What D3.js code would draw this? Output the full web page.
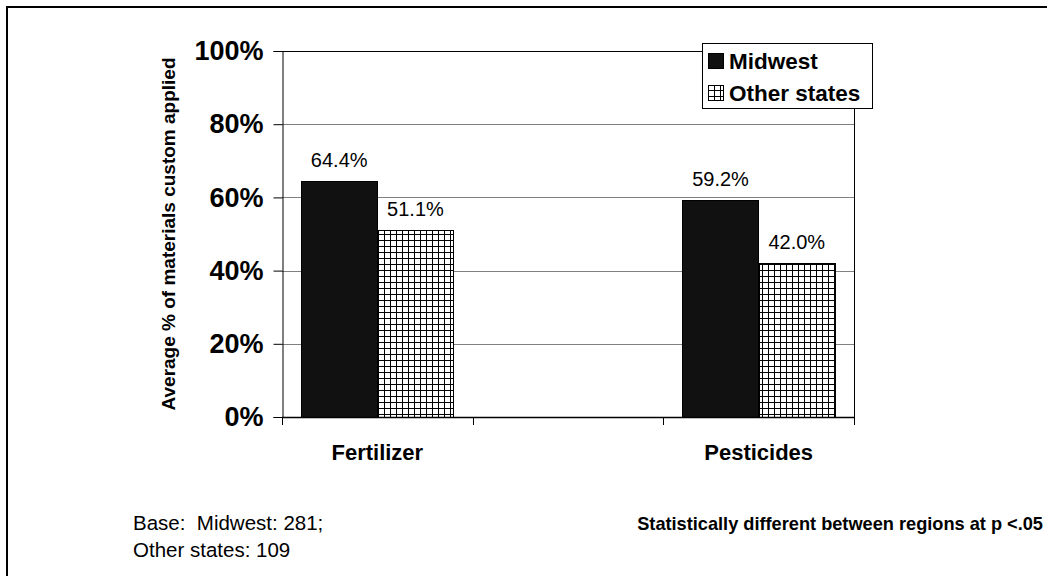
<!DOCTYPE html>
<html>
<head>
<meta charset="utf-8">
<script src="https://cdn.jsdelivr.net/npm/d3@7"></script>
<style>
  body { margin: 0; background: #fff; }
  svg text { font-family: "Liberation Sans", Arial, sans-serif; fill: #000; }
</style>
</head>
<body>
<script>
// chart values
const categories = ["Fertilizer", "", "Pesticides"];
const seriesNames = ["Midwest", "Other states"];
const midwest = [64.4, null, 59.2];
const otherStates = [51.1, null, 42.0];
const yTicks = [0, 20, 40, 60, 80, 100];

const W = 1047, H = 576;
const plot = { left: 282, right: 854, top: 51, bottom: 417 };

const svg = d3.select("body").append("svg")
    .attr("width", W)
    .attr("height", H);

// grid pattern for "Other states"
const defs = svg.append("defs");
const pat = defs.append("pattern")
    .attr("id", "grid")
    .attr("patternUnits", "userSpaceOnUse")
    .attr("width", 6).attr("height", 6);
pat.append("rect").attr("width", 6).attr("height", 6).attr("fill", "#fff");
pat.append("path").attr("d", "M0,0.5H6M0.5,0V6")
    .attr("stroke", "#000").attr("stroke-width", 1);

// outer frame
svg.append("rect")
    .attr("x", 7).attr("y", 7)
    .attr("width", 1100).attr("height", 600)
    .attr("fill", "none").attr("stroke", "#000").attr("stroke-width", 2);

var x = d3.scaleBand().domain(categories).range([plot.left, plot.right]);
var xs = d3.scaleBand().domain(seriesNames)
    .range([0, x.bandwidth()]).paddingOuter(0.25);
var y = d3.scaleLinear().domain([0, 100]).range([plot.bottom, plot.top]);

// gridlines
svg.append("g").selectAll("line")
    .data(yTicks.filter(d => d > 0 && d < 100))
    .enter().append("line")
    .attr("x1", plot.left).attr("x2", plot.right)
    .attr("y1", d => Math.round(y(d)) + 0.5).attr("y2", d => Math.round(y(d)) + 0.5)
    .attr("stroke", "#808080");

// plot area border (top, right)
svg.append("path")
    .attr("d", "M" + plot.left + "," + (plot.top + 0.5) + "H" + (plot.right + 0.5) + "V" + plot.bottom)
    .attr("fill", "none").attr("stroke", "#000");

// bars
const series = [
  { name: "Midwest", values: midwest, fill: "#111" },
  { name: "Other states", values: otherStates, fill: "url(#grid)" }
];
series.forEach(function (s) {
  const pts = categories.map((c, i) => ({ cat: c, v: s.values[i] })).filter(d => d.v != null);
  const g = svg.append("g");
  g.selectAll("rect")
      .data(pts)
      .enter().append("rect")
      .attr("x", d => Math.round(x(d.cat) + xs(s.name)) + 0.5)
      .attr("y", d => Math.round(y(d.v)) + 0.5)
      .attr("width", Math.round(xs.bandwidth()))
      .attr("height", d => Math.round(plot.bottom - y(d.v)))
      .attr("fill", s.fill)
      .attr("stroke", "#000");
  g.selectAll("text")
      .data(pts)
      .enter().append("text")
      .attr("x", d => x(d.cat) + xs(s.name) + xs.bandwidth() / 2)
      .attr("y", d => y(d.v) - 14)
      .attr("text-anchor", "middle")
      .style("font-size", "20px")
      .text(d => d.v.toFixed(1) + "%");
});

// y axis
const yAxis = svg.append("g")
    .attr("transform", "translate(" + (plot.left + 0.5) + ",0)")
    .call(d3.axisLeft(y).tickValues(yTicks).tickSize(9).tickPadding(10).tickFormat(d => d + "%"));
yAxis.select(".domain").attr("stroke", "#000");
yAxis.selectAll(".tick line").attr("stroke", "#000");
yAxis.selectAll("text")
    .style("font-size", "27px").style("font-weight", "bold")
    .attr("font-family", null);

// x axis
const bounds = [plot.left].concat(categories.map(c => x(c) + x.bandwidth()));
const xAxis = svg.append("g");
xAxis.append("line")
    .attr("x1", plot.left).attr("x2", plot.right + 1)
    .attr("y1", plot.bottom + 0.5).attr("y2", plot.bottom + 0.5)
    .attr("stroke", "#000").attr("stroke-width", 1.5);
xAxis.selectAll(".xt")
    .data(bounds)
    .enter().append("line")
    .attr("class", "xt")
    .attr("x1", d => Math.round(d) + 0.5).attr("x2", d => Math.round(d) + 0.5)
    .attr("y1", plot.bottom).attr("y2", plot.bottom + 8)
    .attr("stroke", "#000");
xAxis.selectAll(".xl")
    .data(categories.filter(c => c !== ""))
    .enter().append("text")
    .attr("class", "xl")
    .attr("x", d => x(d) + x.bandwidth() / 2)
    .attr("y", 460)
    .attr("text-anchor", "middle")
    .style("font-size", "22px").style("font-weight", "bold")
    .text(d => d);

// y axis title
svg.append("text")
    .attr("transform", "translate(175," + ((plot.top + plot.bottom) / 2) + ") rotate(-90)")
    .attr("text-anchor", "middle")
    .style("font-size", "19px").style("font-weight", "bold")
    .text("Average % of materials custom applied");

// legend
const legend = svg.append("g");
legend.append("rect")
    .attr("x", 702.5).attr("y", 43.5).attr("width", 170).attr("height", 65)
    .attr("fill", "#fff").attr("stroke", "#000");
series.forEach(function (s, i) {
  const cy = 61 + i * 32;
  legend.append("rect")
      .attr("x", 708.5).attr("y", cy - 7.5).attr("width", 15).attr("height", 15)
      .attr("fill", s.fill).attr("stroke", "#000");
  legend.append("text")
      .attr("x", 729).attr("y", cy + 8)
      .style("font-size", "22.5px").style("font-weight", "bold")
      .text(s.name);
});

// notes
svg.append("text")
    .attr("x", 133).attr("y", 530)
    .style("font-size", "20.5px").style("white-space", "pre")
    .text("Base:  Midwest: 281;");
svg.append("text")
    .attr("x", 133).attr("y", 557)
    .style("font-size", "20.5px")
    .text("Other states: 109");
svg.append("text")
    .attr("x", 1043).attr("y", 530)
    .attr("text-anchor", "end")
    .style("font-size", "18.2px").style("font-weight", "bold")
    .text("Statistically different between regions at p <.05");
</script>
</body>
</html>
